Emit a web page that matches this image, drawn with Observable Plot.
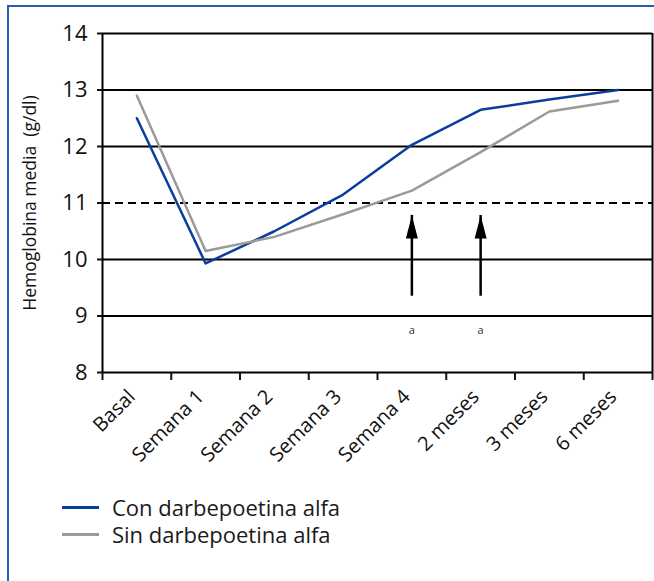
<!DOCTYPE html>
<html><head><meta charset="utf-8">
<script src="https://cdn.jsdelivr.net/npm/d3@7"></script>
<script src="https://cdn.jsdelivr.net/npm/@observablehq/plot@0.6"></script>
<style>
body{margin:0;background:#fff;font-family:"Open Sans",sans-serif;}
#frame{position:absolute;left:7px;top:5px;width:720px;height:640px;border-left:2px solid #2b5cb0;border-top:2px solid #2b5cb0;}
#chart{position:absolute;left:0;top:0;}
#legend{position:absolute;left:62px;top:494px;font-size:22px;color:#1a1a1a;line-height:27px;}
.item{display:flex;align-items:center;height:27px;}
.sw{width:37px;height:3px;margin-right:13px;}
</style></head><body>
<div id="frame"></div>
<div id="chart"></div>
<div id="legend"></div>
<script>
const categories = ["Basal","Semana 1","Semana 2","Semana 3","Semana 4","2 meses","3 meses","6 meses"];
const conDarbe = [12.5, 9.93, 10.5, 11.15, 12.03, 12.65, 12.83, 13.0];
const sinDarbe = [12.9, 10.15, 10.4, 10.8, 11.22, 11.9, 12.62, 12.81];
const yTicks = [8, 9, 10, 11, 12, 13, 14];
const solidGrid = [9, 10, 12, 13, 14];
const dashedGrid = [11];
const arrowCats = ["Semana 4", "2 meses"];
const arrowFrom = 9.35, arrowTo = 10.78, noteY = 8.74, noteText = "a";
const seriesNames = ["Con darbepoetina alfa", "Sin darbepoetina alfa"];
const seriesColors = ["#0b3d9e", "#9a9a9a"];
const yLabel = "Hemoglobina media\u00a0 (g/dl)";

const pos = c => categories.indexOf(c) + 0.5;
const rows = [];
categories.forEach((c, i) => {
  rows.push({cat: c, s: seriesNames[0], v: conDarbe[i]});
  rows.push({cat: c, s: seriesNames[1], v: sinDarbe[i]});
});
const arrows = arrowCats.map(c => ({x: pos(c)}));

const tallTriangle = {
  draw(ctx) {
    ctx.moveTo(0, 0);
    ctx.lineTo(6, 23);
    ctx.lineTo(-6, 23);
    ctx.closePath();
  }
};

const chart = Plot.plot({
  width: 654, height: 470,
  marginLeft: 102, marginRight: 2, marginTop: 33, marginBottom: 98,
  style: {fontFamily: "Open Sans, sans-serif", fontSize: "22px", color: "#111", background: "transparent", overflow: "visible"},
  x: {type: "linear", domain: [0, categories.length]},
  y: {domain: [yTicks[0], yTicks[yTicks.length - 1]]},
  color: {domain: seriesNames, range: seriesColors},
  marks: [
    Plot.ruleY(solidGrid, {stroke: "#000", strokeWidth: 2}),
    Plot.ruleY(dashedGrid, {stroke: "#000", strokeWidth: 2, strokeDasharray: "8,5"}),
    Plot.ruleX([0, categories.length], {stroke: "#000", strokeWidth: 2}),
    Plot.ruleY([yTicks[0]], {stroke: "#000", strokeWidth: 2}),
    Plot.axisY({ticks: yTicks, tickFormat: d => String(d), tickSize: 5, tickPadding: 10, fontSize: 22, label: null, strokeWidth: 2}),
    Plot.axisX({ticks: d3.range(categories.length + 1), tickSize: 8, tickFormat: () => "", label: null, strokeWidth: 2}),
    Plot.axisX({ticks: categories.map((c, i) => i + 0.5), tickFormat: v => categories[Math.floor(v)], tickSize: 0, tickRotate: -45, tickPadding: 21, dx: -5, fontSize: 20, label: null}),
    Plot.line(rows, {x: d => pos(d.cat), y: "v", z: "s", stroke: "s", strokeWidth: 2.5}),
    Plot.ruleX(arrows, {x: "x", y1: arrowFrom, y2: arrowTo, stroke: "#000", strokeWidth: 2.5}),
    Plot.dot(arrows, {x: "x", y: arrowTo, symbol: tallTriangle, fill: "#000", stroke: "none"}),
    Plot.text(arrows, {x: "x", y: noteY, text: () => noteText, fontSize: 11, fill: "#333"}),
    Plot.text([yLabel], {frameAnchor: "left", dx: -72, rotate: -90, textAnchor: "middle", fontSize: 17.5, fill: "#111"})
  ]
});
document.getElementById("chart").appendChild(chart);

const legend = document.getElementById("legend");
seriesNames.forEach((n, i) => {
  const it = document.createElement("div");
  it.className = "item";
  const sw = document.createElement("span");
  sw.className = "sw";
  sw.style.background = seriesColors[i];
  const t = document.createElement("span");
  t.textContent = n;
  it.appendChild(sw); it.appendChild(t);
  legend.appendChild(it);
});
</script>
</body></html>
